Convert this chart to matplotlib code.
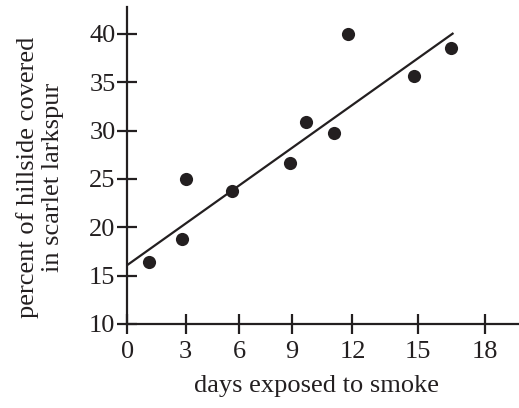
import numpy as np
import matplotlib
matplotlib.use("Agg")
import matplotlib.pyplot as plt

# ---- data ----
days = [1.1, 2.8, 3.0, 5.6, 8.9, 9.7, 11.1, 11.8, 14.8, 16.5]
percent = [16.4, 18.8, 25.0, 23.8, 26.7, 30.9, 29.8, 40.0, 35.7, 38.6]
fit_x = [0.0, 16.6]
fit_y = [16.1, 40.1]
xticks = [0, 3, 6, 9, 12, 15, 18]
yticks = [10, 15, 20, 25, 30, 35, 40]

# hand-drawn (uneven) x tick spacing of the original, as a piecewise scale
_scale_src = np.array([0, 3, 6, 9, 12, 15, 18])
_scale_dst = np.array([0, 58.4, 112.0, 165.0, 225.4, 291.0, 357.7])

def _fwd(x):
    x = np.asarray(x, dtype=float)
    y = np.interp(x, _scale_src, _scale_dst)
    lo = x < _scale_src[0]
    hi = x > _scale_src[-1]
    s0 = (_scale_dst[1] - _scale_dst[0]) / (_scale_src[1] - _scale_src[0])
    s1 = (_scale_dst[-1] - _scale_dst[-2]) / (_scale_src[-1] - _scale_src[-2])
    y = np.where(lo, _scale_dst[0] + (x - _scale_src[0]) * s0, y)
    y = np.where(hi, _scale_dst[-1] + (x - _scale_src[-1]) * s1, y)
    return y

def _inv(y):
    y = np.asarray(y, dtype=float)
    x = np.interp(y, _scale_dst, _scale_src)
    lo = y < _scale_dst[0]
    hi = y > _scale_dst[-1]
    s0 = (_scale_src[1] - _scale_src[0]) / (_scale_dst[1] - _scale_dst[0])
    s1 = (_scale_src[-1] - _scale_src[-2]) / (_scale_dst[-1] - _scale_dst[-2])
    x = np.where(lo, _scale_src[0] + (y - _scale_dst[0]) * s0, x)
    x = np.where(hi, _scale_src[-1] + (y - _scale_dst[-1]) * s1, x)
    return x

ink = "#231f20"
plt.rcParams["font.family"] = ["Liberation Serif", "DejaVu Serif"]

W, H = 519, 408
fig = plt.figure(figsize=(W / 100, H / 100), dpi=100)
ax = fig.add_axes([127.3 / W, (H - 324) / H, (W - 127.3) / W, (324 - 7.3) / H])

ax.set_xscale("function", functions=(_fwd, _inv))
ax.set_xlim(0, 19.55)
ax.set_ylim(10, 42.76)

ax.plot(fit_x, fit_y, color=ink, lw=1.6, solid_capstyle="butt")
ax.scatter(days, percent, s=90, color=ink, zorder=3, linewidths=0)

for s in ["top", "right"]:
    ax.spines[s].set_visible(False)
for s in ["left", "bottom"]:
    ax.spines[s].set_linewidth(1.6)
    ax.spines[s].set_color(ink)

ax.set_xticks(xticks)
ax.set_yticks(yticks)
ax.set_xticklabels([str(t) for t in xticks])
ax.set_yticklabels([str(t) for t in yticks])
ax.tick_params(axis="both", direction="inout", length=14, width=1.6,
               color=ink, labelcolor=ink, labelsize=19)
ax.tick_params(axis="y", pad=1.5)
ax.tick_params(axis="x", pad=5)

fig.text(317 / W, (H - 386) / H, "days exposed to smoke", ha="center",
         va="center", fontsize=19, color=ink)
fig.text(40 / W, (H - 177) / H, "percent of hillside covered\nin scarlet larkspur",
         ha="center", va="center", rotation=90, fontsize=19, color=ink,
         multialignment="center", linespacing=1.2)

fig.savefig("out.png", dpi=100)
